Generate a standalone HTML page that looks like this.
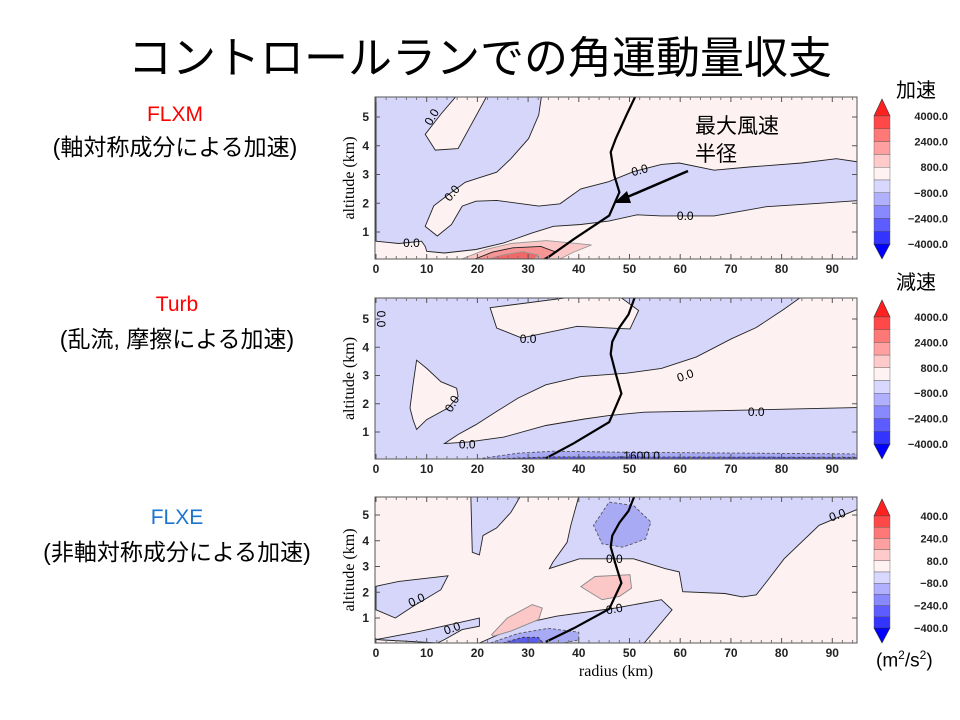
<!DOCTYPE html>
<html><head><meta charset="utf-8">
<style>
body{margin:0;background:#fff;}
#wrap{position:relative;width:960px;height:720px;overflow:hidden;font-family:"Liberation Sans","Noto Sans CJK JP",sans-serif;}
.t{position:absolute;white-space:nowrap;}
.d{font-size:23px;font-weight:normal;}
</style></head><body>
<div id="wrap">
<div class="t" style="left:0;width:960px;text-align:center;top:22px;font-size:44px;color:#000;">コントロールランでの角運動量収支</div>
<div class="t" style="left:75px;width:200px;text-align:center;top:103px;font-size:21px;color:#ff0000;">FLXM</div>
<div class="t d" style="left:25px;width:300px;text-align:center;top:128px;">(軸対称成分による加速)</div>
<div class="t" style="left:77px;width:200px;text-align:center;top:293px;font-size:21px;color:#ff0000;">Turb</div>
<div class="t d" style="left:27px;width:300px;text-align:center;top:320px;">(乱流, 摩擦による加速)</div>
<div class="t" style="left:77px;width:200px;text-align:center;top:506px;font-size:21px;color:#1a75cf;">FLXE</div>
<div class="t d" style="left:27px;width:300px;text-align:center;top:533px;">(非軸対称成分による加速)</div>
<div class="t" style="left:896px;top:74px;font-size:20px;">加速</div>
<div class="t" style="left:896px;top:266px;font-size:20px;">減速</div>
<div class="t" style="left:876px;top:648px;font-size:19px;">(m<sup style="font-size:12px">2</sup>/s<sup style="font-size:12px">2</sup>)</div>
<svg id="svg" width="960" height="720" style="position:absolute;left:0;top:0"></svg>
</div>
<script>
// ---- data (radius km, altitude km) ----
const xTicks=[0,10,20,30,40,50,60,70,80,90];
const yTicks=[1,2,3,4,5];
const cbLabels1=["4000.0","2400.0","800.0","\u2212800.0","\u22122400.0","\u22124000.0"];
const cbLabels3=["400.0","240.0","80.0","\u221280.0","\u2212240.0","\u2212400.0"];
const rmwR1=[51.1,49.4,47.3,46.3,47,48,46,39,33.5];
const rmwZ1=[5.7,5.07,4.25,3.78,2.97,2.38,1.57,0.75,0.05];
const rmwR2=[51.1,49.8,48,46.6,46.3,47.3,48.4,46,39,33.5];
const rmwZ2=[5.8,5.16,4.7,4.2,3.76,3.06,2.36,1.35,0.6,0.07];
// plot 1 (FLXM): background pink
const p1Blue=[[0,5.8],[32.7,5.8],[32.1,5.07],[30.1,4.25],[26.6,3.55],[23.8,3.08],[19.7,2.85],[17.6,2.73],[14.9,2.38],[11.4,1.91],[9.7,1.2],[12.1,0.86],[14.9,1.26],[17,1.9],[19.7,2.07],[23.8,2.1],[32.1,1.9],[36.3,1.98],[40.4,2.5],[45.9,2.75],[50.8,3.1],[56.3,3.35],[59.8,3.4],[66.7,3.15],[73.6,3.26],[83.9,3.4],[90.8,3.55],[96.5,3.4],[96.5,2.11],[87.4,2],[77,1.88],[66.7,1.56],[56.3,1.56],[51.5,1.6],[45.9,1.38],[40.4,1.26],[35,1.2],[30.8,0.97],[25.2,0.62],[19.7,0.39],[13.5,0.27],[10,0.33],[9.7,0.5],[9,0.68],[4.5,0.6],[0,0.68]];
const p1Island=[[16.2,5.8],[12.8,5.1],[9.7,4.4],[11.7,3.85],[16.2,3.9],[22.1,5.8]];
const p1Red1=[[16.9,0.0],[21.8,0.4],[26.6,0.6],[33.6,0.7],[42.5,0.55],[39,0.3],[36.3,0.0]];
const p1Red2=[[19.5,0.0],[23,0.3],[27,0.45],[32.5,0.5],[35.5,0.3],[33,0.0]];
const p1Red3=[[22,0.0],[25,0.2],[29,0.32],[32,0.2],[31,0.0]];
// plot 2 (Turb): background blue
const p2PinkA=[[13.5,0.59],[18.3,0.65],[25.2,0.82],[33.5,1.23],[41.1,1.46],[45.9,1.58],[52.9,1.7],[66.7,1.75],[96.5,1.87],[96.5,5.8],[84,5.8],[80.5,5.35],[75,4.7],[70.1,4.3],[63.2,3.66],[56.3,3.25],[49.4,3.08],[40.4,2.96],[33.5,2.67],[28,2.2],[23.8,1.73],[19.7,1.26],[16.2,0.91]];
const p2PinkB=[[8,3.54],[10,3.25],[12.8,2.78],[15.9,2.55],[16.2,2.26],[14.2,1.85],[10,1.44],[8,1.09],[7.3,1.44],[6.7,1.85],[7.3,2.67]];
const p2PinkC=[[22.5,5.4],[39.7,5.8],[48,5.8],[51.8,5.3],[50.1,4.65],[47.3,4.67],[39.7,4.74],[28.7,4.33],[23.8,4.68]];
const p2Strip=[[20,0],[28,0.25],[35,0.32],[50,0.28],[96.5,0.22],[96.5,0]];
const p2Strip2=[[22,0],[35,0.12],[96.5,0.1],[96.5,0]];
// plot 3 (FLXE): background pink
const p3BlueA=[[18.7,5.8],[19,3.55],[20.4,3.45],[21.1,4.2],[23.8,4.5],[26.6,5.1],[28.7,5.8]];
const p3BlueB=[[40.1,5.8],[38.4,4.58],[37.7,3.94],[34.9,3.17],[34.2,2.92],[40.1,3.3],[50.8,3.3],[57,2.92],[59.8,2.79],[60.5,2.02],[68.8,1.95],[72.3,1.82],[75,1.9],[77,2.4],[80.5,3.3],[87.4,4.6],[96.5,5.35],[96.5,5.8]];
const p3BlueC=[[0,2.23],[4.5,2.42],[14.2,2.64],[12.8,2.1],[7.3,1.45],[3.8,1.0],[0,1.32]];
const p3BlueD=[[0,0.16],[8.6,0.48],[20.4,1],[20.4,0.68],[17,0.55],[13.5,0.16],[12.1,0]];
const p3BlueE=[[20.4,0],[29.4,0.8],[35.6,1.07],[47.3,1.39],[56.3,1.71],[58.4,1.32],[52.9,0]];
const p3Mid1=[[22.5,0],[28,0.4],[34,0.6],[40,0.45],[40,0.15],[37,0]];
const p3Dark=[[25,0],[29,0.25],[32,0.25],[33,0]];
const p3Oval=[[46,5.5],[50.8,5.37],[54.2,4.73],[53.2,4.07],[48.7,3.75],[44.6,3.88],[42.9,4.6]];
const p3Red1=[[40.4,2.22],[43.2,2.61],[50.1,2.68],[50.4,2.16],[48,1.84],[44.6,1.71]];
const p3Red2=[[22.8,0.35],[25.9,1],[30.8,1.52],[32.8,1.39],[32.1,0.94],[26.6,0.49],[23.1,0.29]];

const NS="http://www.w3.org/2000/svg";
const svg=document.getElementById('svg');
function mk(tag,attrs,parent){const e=document.createElementNS(NS,tag);for(const k in attrs)e.setAttribute(k,attrs[k]);(parent||svg).appendChild(e);return e;}
const L=375,R=857,PXK=5.07;
const plots=[{top:97,bot:259,z0:260.75,pk:28.75},{top:298,bot:459,z0:460.25,pk:28.25},{top:497,bot:643,z0:643.75,pk:25.75}];
function sx(r){return L+1+r*PXK;}
function sy(p,z){return Math.min(p.bot,p.z0-z*p.pk);}
function pts(p,arr){return arr.map(q=>sx(q[0]).toFixed(1)+','+sy(p,q[1]).toFixed(1)).join(' ');}
function poly(p,g,arr,fill,stroke,name,dash){
  const e=mk('polygon',{points:pts(p,arr),fill:fill,stroke:stroke||'#222','stroke-width':0.9},g);
  if(dash)e.setAttribute('stroke-dasharray','3,2');
  
  
}
function line(p,g,rs,zs,name){
  const e=mk('polyline',{points:rs.map((r,i)=>sx(r).toFixed(1)+','+sy(p,zs[i]).toFixed(1)).join(' '),fill:'none',stroke:'#000','stroke-width':2.2},g);
  
  
}
function lbl(p,g,r,z,txt,rot){
  const t=mk('text',{x:sx(r),y:sy(p,z)+4,'font-size':12,'font-family':'Liberation Sans, sans-serif','text-anchor':'middle',transform:rot?`rotate(${rot} ${sx(r)} ${sy(p,z)})`:''},g);
  t.textContent=txt;
  
  
}
const PINK='#fdf1f1',BLUE='#d6d6fb',MID='#a9aaf4',DARK='#5a5cf0',RL='#fbc7c7',RM='#f79494',RD='#f06868';

plots.forEach((p,i)=>{
  const g=mk('g',{});
  
  
  const cp=mk('clipPath',{id:'cp'+i},g);
  mk('rect',{x:L,y:p.top,width:R-L,height:p.bot-p.top},cp);
  const inner=mk('g',{'clip-path':`url(#cp${i})`},g);
  const bg=mk('rect',{x:L,y:p.top,width:R-L,height:p.bot-p.top,fill:i==1?BLUE:PINK},inner);
  
  
  if(i==0){
    poly(p,inner,p1Blue,BLUE,'#222','negative-region');
    poly(p,inner,p1Island,PINK,'#222','positive-island');
    poly(p,inner,p1Red1,RL,'#999','positive-800');
    poly(p,inner,p1Red2,RM,'#222','positive-2400');
    poly(p,inner,p1Red3,RD,'#999','positive-4000');
    line(p,inner,rmwR1,rmwZ1,'rmw-line');
    lbl(p,inner,7,0.62,'0.0');lbl(p,inner,15,2.35,'0.0',-50);lbl(p,inner,11,5.0,'0.0',-60);
    lbl(p,inner,52,3.15,'0.0',-15);lbl(p,inner,61,1.56,'0.0');
  }else if(i==1){
    poly(p,inner,p2PinkA,PINK,'#222','positive-region');
    poly(p,inner,p2PinkB,PINK,'#222','positive-island-left');
    poly(p,inner,p2PinkC,PINK,'#222','positive-island-top');
    poly(p,inner,p2Strip,MID,'#555','surface-drag','dash');
    poly(p,inner,p2Strip2,DARK,'#333','surface-drag-strong','dash');
    line(p,inner,rmwR2,rmwZ2,'rmw-line');
    lbl(p,inner,30,4.3,'0.0');lbl(p,inner,15,2.0,'0.0',-60);lbl(p,inner,18,0.55,'0.0');
    lbl(p,inner,61,3.0,'0.0',-20);lbl(p,inner,75,1.7,'0.0');lbl(p,inner,1,5.0,'0.0',90);lbl(p,inner,52,0.15,'-1600.0');
  }else{
    poly(p,inner,p3BlueA,BLUE,'#222','negative-a');
    poly(p,inner,p3BlueB,BLUE,'#222','negative-b');
    poly(p,inner,p3BlueC,BLUE,'#222','negative-c');
    poly(p,inner,p3BlueD,BLUE,'#222','negative-d');
    poly(p,inner,p3BlueE,BLUE,'#222','negative-e');
    poly(p,inner,p3Mid1,MID,'#555','negative-80','dash');
    poly(p,inner,p3Dark,DARK,'#333','negative-240','dash');
    poly(p,inner,p3Oval,MID,'#555','negative-oval','dash');
    poly(p,inner,p3Red1,RL,'#888','positive-mid');
    poly(p,inner,p3Red2,RL,'#888','positive-low');
    line(p,inner,rmwR2,rmwZ2,'rmw-line');
    lbl(p,inner,8,1.7,'0.0',-25);lbl(p,inner,15,0.6,'0.0',-20);lbl(p,inner,47,3.3,'0.0');
    lbl(p,inner,47,1.35,'0.0',-10);lbl(p,inner,91,5.0,'0.0',-20);
  }
  const fr=mk('rect',{x:L,y:p.top,width:R-L,height:p.bot-p.top,fill:'none',stroke:'#555','stroke-width':1},g);
  
  
  xTicks.forEach(v=>{
    mk('line',{x1:sx(v),x2:sx(v),y1:p.bot,y2:p.bot-5,stroke:'#555'},g);
    mk('line',{x1:sx(v),x2:sx(v),y1:p.top,y2:p.top+5,stroke:'#555'},g);
    const t=mk('text',{x:sx(v),y:p.bot+14,'font-size':12,'text-anchor':'middle','font-family':'Liberation Sans, sans-serif','font-weight':'bold','fill':'#222'},g);
    t.textContent=v;
    
    
  });
  for(let v=2;v<96;v+=2){ if(v%10){mk('line',{x1:sx(v),x2:sx(v),y1:p.bot,y2:p.bot-3,stroke:'#777'},g);mk('line',{x1:sx(v),x2:sx(v),y1:p.top,y2:p.top+3,stroke:'#777'},g);} }
  yTicks.forEach(v=>{
    const y=sy(p,v);
    mk('line',{x1:L,x2:L+5,y1:y,y2:y,stroke:'#555'},g);
    mk('line',{x1:R,x2:R-5,y1:y,y2:y,stroke:'#555'},g);
    const t=mk('text',{x:L-6,y:y+4,'font-size':12,'text-anchor':'end','font-family':'Liberation Sans, sans-serif','font-weight':'bold','fill':'#222'},g);
    t.textContent=v;
    
    
  });
  const yc=(p.top+p.bot)/2;
  const yt=mk('text',{x:354,y:yc,'font-size':16,'text-anchor':'middle','font-family':'Liberation Serif, serif',transform:`rotate(-90 354 ${yc})`},g);
  yt.textContent='altitude (km)';
  
  
  // colorbar
  const cb=mk('g',{},g);
  
  
  const cols=['#ff4848','#ff7878','#ffa0a0','#ffcaca','#fff2f2','#d8d8ff','#b0b0ff','#8888ff','#5c5cff','#3434ff'];
  const bt=p.top+19, bh=(p.bot-p.top-34)/10, cx0=874, cw=16;
  mk('polygon',{points:`${cx0},${bt} ${cx0+cw},${bt} ${cx0+cw/2},${bt-17}`,fill:'#ff2020',stroke:'#333','stroke-width':0.6},cb);
  cols.forEach((c,k)=>mk('rect',{x:cx0,y:bt+k*bh,width:cw,height:bh,fill:c,stroke:'#555','stroke-width':0.4},cb));
  const be=bt+10*bh;
  mk('polygon',{points:`${cx0},${be} ${cx0+cw},${be} ${cx0+cw/2},${be+15}`,fill:'#0000ff',stroke:'#333','stroke-width':0.6},cb);
  const labs=i==2?cbLabels3:cbLabels1;
  labs.forEach((s,k)=>{
    const t=mk('text',{x:948,y:bt+k*2*bh+4,'font-size':11,'text-anchor':'end','font-family':'Liberation Sans, sans-serif','font-weight':'bold','fill':'#222'},cb);
    t.textContent=s;
    
    
  });
});
const xt=mk('text',{x:616,y:676,'font-size':16,'text-anchor':'middle','font-family':'Liberation Serif, serif'});
xt.textContent='radius (km)';


// annotation
const an=mk('g',{});


const a1=mk('text',{x:695,y:133,'font-size':21,'font-family':'Noto Sans CJK JP, sans-serif'},an);a1.textContent='最大風速';
const a2=mk('text',{x:695,y:161,'font-size':21,'font-family':'Noto Sans CJK JP, sans-serif'},an);a2.textContent='半径';
mk('line',{x1:688,y1:171,x2:625,y2:198,stroke:'#000','stroke-width':2.5},an);
mk('polygon',{points:'614,203 627,191 631,203',fill:'#000'},an);
</script>
</body></html>
